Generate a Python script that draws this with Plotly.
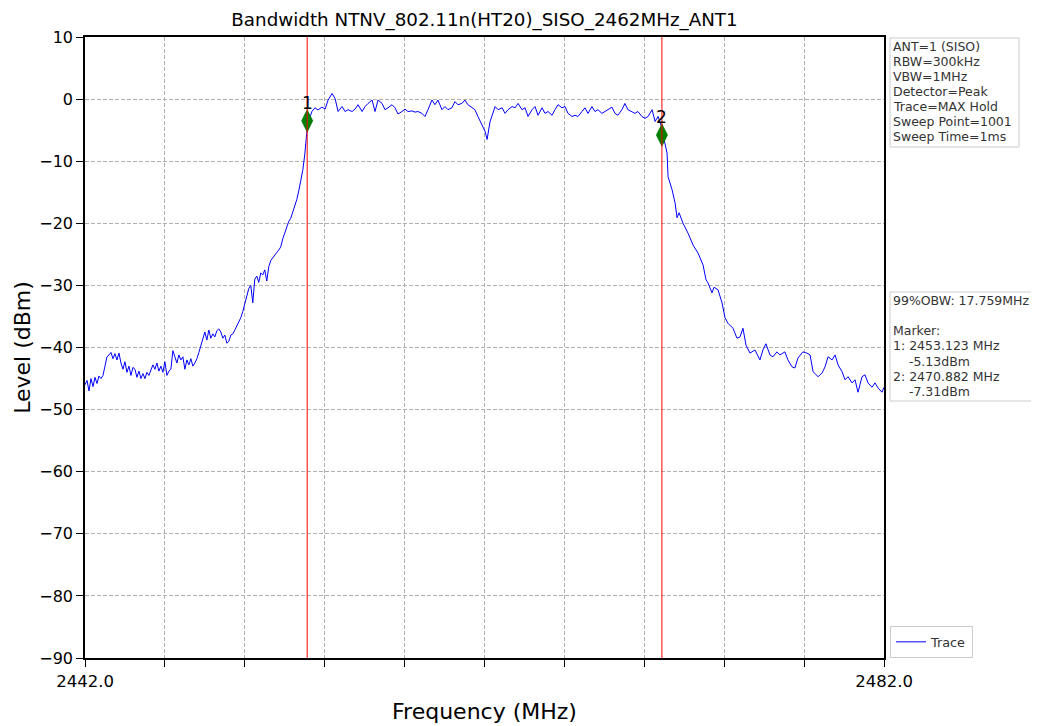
import plotly.graph_objects as go

# ---- data ----
freq_mhz = [
    2442.00, 2442.10, 2442.20, 2442.30, 2442.40, 2442.50, 2442.60, 2442.70, 2442.80, 2442.90,
    2443.00, 2443.10, 2443.20, 2443.30, 2443.40, 2443.50, 2443.60, 2443.70, 2443.80, 2443.90,
    2444.00, 2444.10, 2444.20, 2444.30, 2444.40, 2444.50, 2444.60, 2444.70, 2444.80, 2444.90,
    2445.00, 2445.10, 2445.20, 2445.30, 2445.40, 2445.50, 2445.60, 2445.70, 2445.80, 2445.90,
    2446.00, 2446.10, 2446.20, 2446.30, 2446.40, 2446.50, 2446.60, 2446.70, 2446.80, 2446.90,
    2447.00, 2447.10, 2447.20, 2447.30, 2447.40, 2447.50, 2447.60, 2447.70, 2447.80, 2447.90,
    2448.00, 2448.10, 2448.20, 2448.30, 2448.40, 2448.50, 2448.60, 2448.70, 2448.80, 2448.90,
    2449.00, 2449.10, 2449.20, 2449.30, 2449.40, 2449.50, 2449.60, 2449.70, 2449.80, 2449.90,
    2450.00, 2450.10, 2450.20, 2450.30, 2450.40, 2450.50, 2450.60, 2450.70, 2450.80, 2450.90,
    2451.00, 2451.10, 2451.20, 2451.30, 2451.40, 2451.50, 2451.60, 2451.70, 2451.80, 2451.90,
    2452.00, 2452.10, 2452.20, 2452.30, 2452.40, 2452.50, 2452.60, 2452.70, 2452.80, 2452.90,
    2453.00, 2453.10, 2453.20, 2453.36, 2453.51, 2453.66, 2453.86, 2454.02, 2454.17, 2454.37,
    2454.52, 2454.67, 2454.87, 2455.02, 2455.17, 2455.37, 2455.52, 2455.67, 2455.87, 2456.02,
    2456.17, 2456.37, 2456.52, 2456.67, 2456.87, 2457.02, 2457.17, 2457.37, 2457.52, 2457.67,
    2457.87, 2458.02, 2458.17, 2458.37, 2458.52, 2458.67, 2458.87, 2459.02, 2459.17, 2459.37,
    2459.52, 2459.67, 2459.87, 2460.02, 2460.17, 2460.37, 2460.52, 2460.67, 2460.87, 2461.02,
    2461.17, 2461.37, 2461.52, 2461.67, 2461.87, 2462.03, 2462.13, 2462.28, 2462.53, 2462.68,
    2462.88, 2463.03, 2463.18, 2463.38, 2463.53, 2463.68, 2463.88, 2464.03, 2464.18, 2464.38,
    2464.53, 2464.68, 2464.88, 2465.03, 2465.18, 2465.38, 2465.53, 2465.68, 2465.88, 2466.03,
    2466.18, 2466.38, 2466.53, 2466.68, 2466.88, 2467.03, 2467.18, 2467.38, 2467.53, 2467.68,
    2467.88, 2468.03, 2468.18, 2468.38, 2468.53, 2468.68, 2468.88, 2469.03, 2469.18, 2469.38,
    2469.53, 2469.68, 2469.88, 2470.03, 2470.19, 2470.39, 2470.54, 2470.69, 2470.89, 2470.94,
    2471.14, 2471.19, 2471.39, 2471.54, 2471.64, 2471.74, 2471.94, 2472.19, 2472.44, 2472.69,
    2472.94, 2473.09, 2473.19, 2473.39, 2473.49, 2473.69, 2473.89, 2474.04, 2474.19, 2474.44,
    2474.64, 2474.79, 2474.94, 2475.09, 2475.29, 2475.54, 2475.79, 2475.94, 2476.09, 2476.29,
    2476.44, 2476.64, 2476.79, 2477.04, 2477.19, 2477.39, 2477.54, 2477.69, 2477.94, 2478.14,
    2478.30, 2478.45, 2478.70, 2478.90, 2479.05, 2479.20, 2479.40, 2479.55, 2479.70, 2479.90,
    2480.05, 2480.20, 2480.40, 2480.55, 2480.70, 2480.90, 2481.05, 2481.20, 2481.40, 2481.55,
    2481.70, 2481.90, 2482.00,
]
level_dbm = [
    -46.0, -45.3, -47.0, -45.0, -46.3, -44.8, -45.8, -44.6, -45.0, -44.5,
    -43.0, -41.5, -41.2, -40.8, -41.8, -41.0, -42.0, -40.9, -42.5, -43.5,
    -42.3, -44.0, -43.0, -44.5, -43.2, -43.5, -44.8, -43.8, -45.0, -44.2,
    -45.0, -44.0, -44.5, -43.5, -42.8, -43.5, -42.5, -43.8, -43.0, -44.0,
    -42.3, -44.5, -43.8, -43.5, -40.5, -41.5, -42.5, -41.2, -42.0, -41.5,
    -43.5, -42.0, -42.8, -41.8, -43.0, -42.5, -41.8, -40.8, -39.8, -38.5,
    -37.5, -38.8, -37.2, -38.5, -37.8, -38.3, -37.3, -37.0, -37.5, -38.5,
    -38.0, -39.3, -39.0, -38.0, -37.8, -37.2, -36.5, -36.0, -35.2, -34.2,
    -33.0, -32.0, -30.5, -30.0, -32.8, -29.0, -28.5, -29.5, -28.0, -28.3,
    -27.5, -29.3, -27.0, -26.0, -25.5, -25.0, -24.7, -24.3, -23.8, -22.5,
    -21.6, -20.5, -19.7, -19.2, -18.3, -17.4, -16.2, -14.8, -13.2, -11.5,
    -9.0, -5.5, -3.5, -2.0, -1.4, -1.75, -1.3, -1.6, -0.15, 0.9,
    0.1, -2.0, -1.2, -2.0, -1.7, -2.0, -1.6, -0.9, -2.0, -1.2,
    -0.7, -0.15, -2.0, -0.15, -0.7, -1.7, -1.4, -0.9, -1.4, -2.4,
    -2.0, -1.6, -2.0, -1.9, -2.1, -2.0, -2.3, -2.8, -1.7, -0.15,
    -0.9, -0.15, -1.7, -1.2, -1.7, -1.4, -0.4, -0.9, -0.7, -0.15,
    -0.9, -1.4, -1.7, -2.8, -4.1, -5.2, -6.5, -3.6, -1.2, -1.7,
    -1.4, -2.3, -1.7, -1.2, -1.4, -0.7, -1.7, -1.4, -2.8, -1.7,
    -1.2, -2.6, -1.4, -2.3, -2.0, -2.6, -1.7, -0.9, -1.4, -1.2,
    -2.3, -2.8, -2.6, -2.8, -2.0, -1.4, -2.3, -1.2, -2.0, -1.7,
    -2.3, -2.0, -1.7, -1.3, -2.3, -2.6, -1.7, -0.7, -1.7, -2.0,
    -2.3, -2.0, -2.8, -3.1, -2.8, -1.7, -3.6, -2.8, -4.7, -5.8,
    -8.7, -12.5, -14.6, -16.7, -19.1, -18.3, -20.0, -21.6, -23.5, -24.8,
    -26.7, -29.1, -29.6, -31.2, -30.3, -30.7, -32.8, -35.2, -36.1, -36.9,
    -38.5, -38.3, -36.9, -39.6, -40.9, -40.4, -42.0, -40.4, -39.4, -41.2,
    -41.5, -40.7, -41.2, -40.7, -42.0, -43.1, -43.3, -41.7, -40.7, -40.9,
    -41.2, -43.9, -44.7, -44.1, -43.1, -41.5, -42.0, -41.2, -42.8, -43.9,
    -45.2, -44.7, -45.7, -45.2, -47.2, -44.7, -44.4, -45.7, -46.4, -45.7,
    -46.5, -47.2, -46.4,
]

marker_freq = [2453.123, 2470.882]
marker_level = [-3.5, -5.8]
marker_names = ["1", "2"]

x_ticks = [2442, 2446, 2450, 2454, 2458, 2462, 2466, 2470, 2474, 2478, 2482]
x_ticktext = ["2442.0", "", "", "", "", "", "", "", "", "", "2482.0"]
y_ticks = [10, 0, -10, -20, -30, -40, -50, -60, -70, -80, -90]
y_ticktext = [("\u2212" + str(-v)) if v < 0 else str(v) for v in y_ticks]

title_text = "Bandwidth NTNV_802.11n(HT20)_SISO_2462MHz_ANT1"
info_lines = ["ANT=1 (SISO)", "RBW=300kHz", "VBW=1MHz", "Detector=Peak",
              "Trace=MAX Hold", "Sweep Point=1001", "Sweep Time=1ms"]
result_lines = ["99%OBW: 17.759MHz", "", "Marker:", "1: 2453.123 MHz", "    -5.13dBm",
                "2: 2470.882 MHz", "    -7.31dBm"]

FONT = "DejaVu Sans"
PAGE_OFF = 8                      # default page margin of the browser body
W, H = 1039 - PAGE_OFF, 726 - PAGE_OFF
# plot area in screen pixels of the reference, converted to figure pixels
L, R, T, B = 85 - PAGE_OFF, 884 - PAGE_OFF, 37 - PAGE_OFF, 658 - PAGE_OFF


def px_x(px):
    return (px - PAGE_OFF - L) / (R - L)


def px_y(py):
    return (B - (py - PAGE_OFF)) / (B - T)


fig = go.Figure()
fig.add_trace(go.Scatter(
    x=freq_mhz, y=level_dbm, mode="lines", name="Trace",
    line=dict(color="#0000ff", width=1),
))
fig.add_trace(go.Scatter(
    x=marker_freq, y=marker_level, mode="markers", showlegend=False,
    marker=dict(symbol="diamond-tall", color="#008000", size=17,
                line=dict(width=0)),
))
for f, lv, name in zip(marker_freq, marker_level, marker_names):
    fig.add_shape(type="line", xref="x", yref="paper", x0=f, x1=f, y0=0, y1=1,
                  line=dict(color="#ff0000", width=1), layer="above")
    fig.add_annotation(xref="x", yref="y", x=f, y=lv, text=name, showarrow=False,
                       xanchor="center", yanchor="bottom", yshift=6,
                       font=dict(family=FONT, size=17, color="black"))

# text boxes on the right (border drawn as shapes, one annotation per line)
TXT = dict(family=FONT, size=12.5, color="#333333")


def text_box(lines, x0, x1, y0, y1, first_line_y, step):
    fig.add_shape(type="rect", xref="paper", yref="paper",
                  x0=px_x(x0), x1=px_x(x1), y0=px_y(y1), y1=px_y(y0),
                  line=dict(color="#cccccc", width=1), fillcolor="white", layer="above")
    for i, s in enumerate(lines):
        if not s:
            continue
        fig.add_annotation(xref="paper", yref="paper", x=px_x(x0 + 0.5),
                           y=px_y(first_line_y + i * step),
                           xanchor="left", yanchor="middle", showarrow=False,
                           text=s.replace(" ", "&nbsp;"), font=TXT, align="left")


text_box(info_lines, 890, 1019, 38, 147, 46.7, 15.0)
text_box(result_lines, 890, 1034, 292, 401, 300.0, 15.3)

fig.update_layout(
    width=W, height=H,
    margin=dict(l=L, r=W - R, t=T, b=H - B, autoexpand=False),
    paper_bgcolor="white", plot_bgcolor="white",
    font=dict(family=FONT, color="black"),
    title=dict(text=title_text, x=0.5, xref="paper", xanchor="center",
               y=1 - (20 - PAGE_OFF) / H, yref="container", yanchor="middle",
               font=dict(family=FONT, size=18.3, color="black")),
    showlegend=True,
    legend=dict(x=px_x(890), y=0.0, xanchor="left", yanchor="bottom",
                bordercolor="#cccccc", borderwidth=1, bgcolor="white",
                font=dict(family=FONT, size=12.8, color="#333333"),
                itemwidth=30, tracegroupgap=0),
)
fig.update_xaxes(
    range=[2442, 2482], tickmode="array", tickvals=x_ticks, ticktext=x_ticktext,
    showgrid=True, gridcolor="#b0b0b0", griddash="4px,2px", gridwidth=1,
    showline=True, linecolor="black", linewidth=1.5, mirror=True,
    ticks="outside", ticklen=7, tickwidth=1.2, tickcolor="black",
    tickfont=dict(family=FONT, size=16.5, color="black"),
    title=dict(text="Frequency (MHz)", font=dict(family=FONT, size=22, color="black"), standoff=14),
    zeroline=False, automargin=False,
)
fig.update_yaxes(
    range=[-90, 10], tickmode="array", tickvals=y_ticks, ticktext=y_ticktext,
    showgrid=True, gridcolor="#b0b0b0", griddash="4px,2px", gridwidth=1,
    showline=True, linecolor="black", linewidth=1.5, mirror=True,
    ticks="outside", ticklen=7, tickwidth=1.2, tickcolor="black",
    tickfont=dict(family=FONT, size=16, color="black"),
    title=dict(text="Level (dBm)", font=dict(family=FONT, size=22, color="black"), standoff=3),
    zeroline=False, automargin=False,
)

fig.write_html("out.html")
